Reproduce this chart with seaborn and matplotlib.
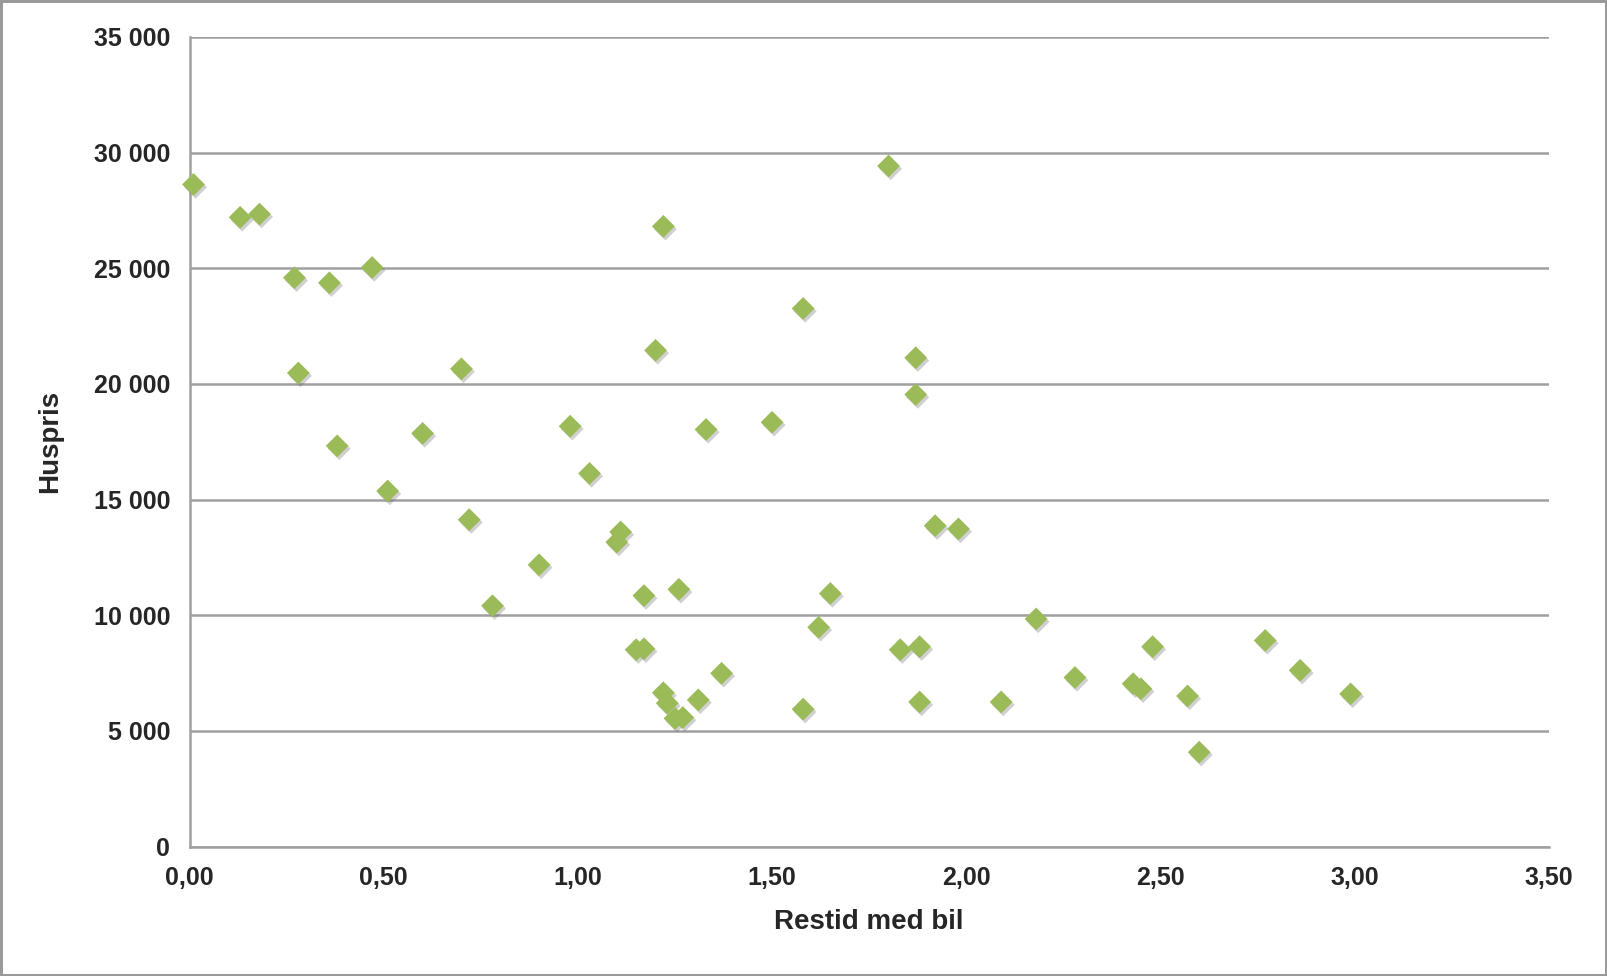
import matplotlib
matplotlib.use('Agg')
import matplotlib.pyplot as plt
import matplotlib.patheffects as pe
from matplotlib.ticker import FuncFormatter, MultipleLocator
import seaborn as sns
import pandas as pd

# Restid med bil (timer) og huspris
restid = [0.01, 0.13, 0.18, 0.27, 0.28, 0.36, 0.38, 0.47, 0.51, 0.60,
          0.70, 0.72, 0.78, 0.90, 0.98, 1.03, 1.10, 1.11, 1.17, 1.15,
          1.17, 1.22, 1.20, 1.22, 1.23, 1.25, 1.27, 1.26, 1.31, 1.33,
          1.37, 1.50, 1.58, 1.58, 1.62, 1.65, 1.80, 1.83, 1.87, 1.87,
          1.88, 1.88, 1.92, 1.98, 2.09, 2.18, 2.28, 2.43, 2.45, 2.48,
          2.57, 2.60, 2.77, 2.86, 2.99]
huspris = [28620, 27200, 27340, 24590, 20470, 24370, 17320, 25030, 15370, 17860,
           20650, 14130, 10410, 12180, 18170, 16130, 13160, 13600, 10850, 8510,
           8550, 26810, 21450, 6650, 6200, 5540, 5580, 11120, 6340, 18030,
           7490, 18340, 23260, 5940, 9480, 10940, 29420, 8510, 21130, 19540,
           8640, 6250, 13870, 13730, 6250, 9840, 7310, 7040, 6820, 8640,
           6510, 4080, 8910, 7620, 6600]

df = pd.DataFrame({'Restid med bil': restid, 'Huspris': huspris})

sns.set_style('white')
plt.rcParams['font.family'] = ['Liberation Sans Narrow', 'Liberation Sans', 'DejaVu Sans']

fig = plt.figure(figsize=(16.07, 9.76), dpi=100, linewidth=2.5, edgecolor='#9a9a9a')
ax = fig.add_axes([0.118, 0.1326, 0.8457, 0.8296])

sns.scatterplot(data=df, x='Restid med bil', y='Huspris', marker='D', s=135,
                color='#9BBB59', edgecolor='none', ax=ax, zorder=3, clip_on=False)
for coll in ax.collections:
    coll.set_path_effects([pe.SimplePatchShadow(offset=(1.5, -2), shadow_rgbFace='#666666', alpha=0.3),
                           pe.Normal()])

ax.set_xlim(0, 3.5)
ax.set_ylim(0, 35000)
ax.xaxis.set_major_locator(MultipleLocator(0.5))
ax.yaxis.set_major_locator(MultipleLocator(5000))
ax.xaxis.set_major_formatter(FuncFormatter(lambda v, p: f'{v:.2f}'.replace('.', ',')))
ax.yaxis.set_major_formatter(FuncFormatter(lambda v, p: f'{int(v):,}'.replace(',', ' ')))

ax.grid(axis='y', color='#a0a0a0', linewidth=1.8, zorder=0)
ax.grid(axis='x', visible=False)
for side in ['top', 'right']:
    ax.spines[side].set_visible(False)
for side in ['left', 'bottom']:
    ax.spines[side].set_color('#a0a0a0')
    ax.spines[side].set_linewidth(1.8)

ax.tick_params(axis='both', which='major', length=8, width=1.8, color='#a0a0a0',
               labelsize=18, direction='out', pad=6)
for lab in ax.get_xticklabels() + ax.get_yticklabels():
    lab.set_fontweight('bold')

ax.set_xlabel('Restid med bil', fontsize=20, fontweight='bold', labelpad=14)
ax.set_ylabel('Huspris', fontsize=20, fontweight='bold', labelpad=22)

fig.savefig('out.png', dpi=100, edgecolor=fig.get_edgecolor())
